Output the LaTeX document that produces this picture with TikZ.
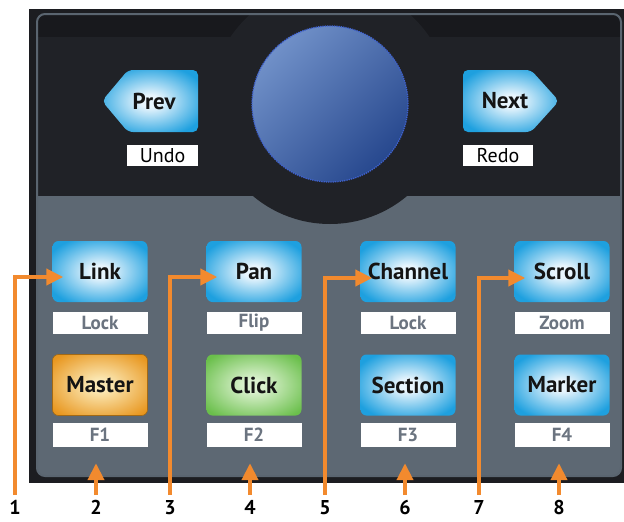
\documentclass[tikz,border=0pt]{standalone}
\usepackage{fontspec}
\setmainfont{PT Sans}
\usetikzlibrary{arrows.meta,shapes.geometric}
\definecolor{outerdark}{HTML}{1C1D21}
\definecolor{topdark}{HTML}{202227}
\definecolor{topband}{HTML}{18191D}
\definecolor{framec}{HTML}{5A6570}
\definecolor{panelgrey}{HTML}{5D6873}
\definecolor{labeltxt}{HTML}{6B7480}
\definecolor{orangec}{HTML}{F28A2E}
\definecolor{btnblue}{HTML}{1EA0DF}
\definecolor{btnglow}{HTML}{E8F5FD}
\definecolor{btnorange}{HTML}{E8961E}
\definecolor{btnorglow}{HTML}{FBE8B4}
\definecolor{btngreen}{HTML}{6ABF4B}
\definecolor{btngrglow}{HTML}{DCF2D0}
\definecolor{knoblight}{HTML}{7090C8}
\definecolor{knobdark}{HTML}{27488E}
\definecolor{knobedge}{HTML}{3F62D0}
\pgfdeclareradialshading{blueglow}{\pgfpoint{0bp}{0bp}}{color(0bp)=(btnglow); color(5bp)=(btnglow); color(30bp)=(btnblue); color(60bp)=(btnblue)}
\pgfdeclareradialshading{orangeglow}{\pgfpoint{0bp}{0bp}}{color(0bp)=(btnorglow); color(5bp)=(btnorglow); color(32bp)=(btnorange); color(60bp)=(btnorange)}
\pgfdeclareradialshading{greenglow}{\pgfpoint{0bp}{0bp}}{color(0bp)=(btngrglow); color(5bp)=(btngrglow); color(32bp)=(btngreen); color(60bp)=(btngreen)}
\newcommand{\btnfont}{\fontsize{23}{25}\selectfont\bfseries\color{black!92}}
\newcommand{\lblfont}{\fontsize{19}{21}\selectfont\bfseries}
\newcommand{\udfont}{\fontsize{20}{22}\selectfont}
\newcommand{\numfont}{\fontsize{20}{22}\selectfont\bfseries}
\tikzset{
  btn/.style={rectangle, rounded corners=6, minimum width=95, minimum height=61, inner sep=0, font=\btnfont, shade},
  bluebtn/.style={btn, shading=blueglow},
  orangebtn/.style={btn, shading=orangeglow, draw=btnorange!70!black, line width=0.6},
  greenbtn/.style={btn, shading=greenglow},
  lbl/.style={rectangle, fill=white, minimum width=95, minimum height=22, inner sep=0, text=labeltxt, font=\lblfont},
  flbl/.style={lbl, minimum height=24},
  udlbl/.style={rectangle, fill=white, minimum width=71, minimum height=21, inner sep=0, text=black, font=\udfont},
  num/.style={anchor=north, inner sep=0, font=\numfont, text=black},
  arr/.style={draw=orangec, line width=4, -{Triangle[length=17, width=16]}},
}
\begin{document}
\begin{tikzpicture}[x=1pt, y=-1pt]
\useasboundingbox (0,0) rectangle (624,522);
% housing
\fill[outerdark] (29,9) rectangle (624,483);
\begin{scope}
  \clip[rounded corners=8] (37,14) rectangle (621,476);
  \fill[topdark] (29,9) rectangle (624,483);
  \fill[topband] (29,9) rectangle (624,37);
  \fill[panelgrey] (29,196) rectangle (624,483);
  \fill[topdark] (330,104) circle (120);
\end{scope}
\draw[framec, line width=2, rounded corners=8] (37,14) rectangle (621,476);
% knob
\node[circle, minimum size=156, inner sep=0, top color=knoblight, bottom color=knobdark, shading angle=45, draw=knobedge, densely dotted, line width=1.3] (knob) at (330,104) {};
% prev / next
\shade[shading=blueglow, rounded corners=5] (198,70) -- (128,70) -- (102,101) -- (128,132) -- (198,132) -- cycle;
\node[font=\btnfont, inner sep=0] (prev) at (154,101) {Prev};
\shade[shading=blueglow, rounded corners=5] (463,70) -- (531,70) -- (559,101) -- (531,132) -- (463,132) -- cycle;
\node[font=\btnfont, inner sep=0] (next) at (505,101) {Next};
\node[udlbl] (undo) at (162.5,155.5) {Undo};
\node[udlbl, minimum width=70] (redo) at (498,155.5) {Redo};
% buttons
\node[bluebtn] (link) at (100,271.5) {Link};
\node[bluebtn] (pan) at (254,271.5) {Pan};
\node[bluebtn] (channel) at (408,271.5) {Channel};
\node[bluebtn] (scroll) at (562,271.5) {Scroll};
\node[lbl] (lock1) at (100,323) {Lock};
\node[lbl] (flip) at (254,323) {Flip};
\node[lbl] (lock2) at (408,323) {Lock};
\node[lbl] (zoom) at (562,323) {Zoom};
\node[orangebtn] (master) at (100,385) {Master};
\node[greenbtn] (click) at (254,385) {Click};
\node[bluebtn] (section) at (408,385) {Section};
\node[bluebtn] (marker) at (562,385) {Marker};
\node[flbl] (f1) at (100,435) {F1};
\node[flbl] (f2) at (254,435) {F2};
\node[flbl] (f3) at (408,435) {F3};
\node[flbl] (f4) at (562,435) {F4};
% numbers
\node[num] (n1) at (15,500) {1};
\node[num] (n2) at (96,500) {2};
\node[num] (n3) at (170,500) {3};
\node[num] (n4) at (250,500) {4};
\node[num] (n5) at (325,500) {5};
\node[num] (n6) at (405,500) {6};
\node[num] (n7) at (479,500) {7};
\node[num] (n8) at (559,500) {8};
% arrows
\draw[arr] ([yshift=5pt]n1.north) |- ([shift={(11,5.5)}]link.west);
\draw[arr] ([yshift=5pt]n3.north) |- ([shift={(11,5.5)}]pan.west);
\draw[arr] ([yshift=5pt]n5.north) |- ([shift={(12,6.5)}]channel.west);
\draw[arr] ([yshift=5pt]n7.north) |- ([shift={(11,6.5)}]scroll.west);
\draw[arr] ([yshift=5pt]n2.north) -- ([yshift=-16pt]n2.north |- f1.south);
\draw[arr] ([yshift=5pt]n4.north) -- ([yshift=-16pt]n4.north |- f2.south);
\draw[arr] ([yshift=5pt]n6.north) -- ([yshift=-16pt]n6.north |- f3.south);
\draw[arr] ([yshift=5pt]n8.north) -- ([yshift=-16pt]n8.north |- f4.south);
\end{tikzpicture}
\end{document}
